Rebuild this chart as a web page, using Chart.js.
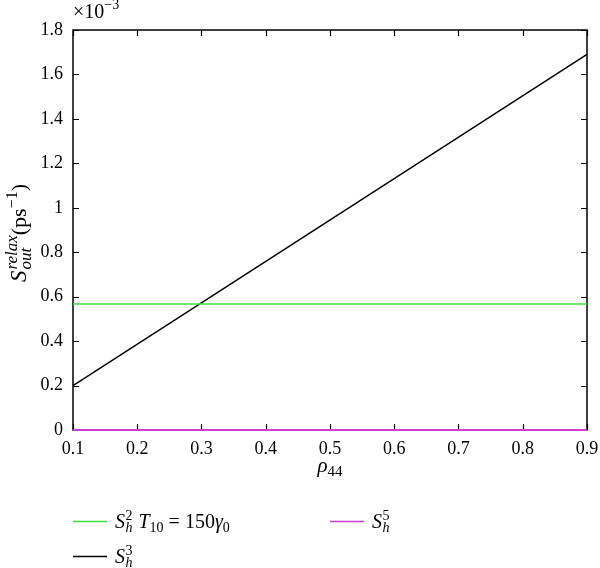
<!DOCTYPE html>
<html>
<head>
<meta charset="utf-8">
<script src="https://cdn.jsdelivr.net/npm/chart.js@4.4.1/dist/chart.umd.min.js"></script>
<style>
html,body{margin:0;padding:0;background:#fff;}
#wrap{width:600px;height:568px;position:relative;}
</style>
</head>
<body>
<div id="wrap"><canvas id="c" width="600" height="568"></canvas></div>
<script>
// ---- data (y values in units of 10^-3 ps^-1) ----
const rho44 = [0.1, 0.9];
const sh3 = [0.2, 1.69];
const sh2 = [0.567, 0.567];
const sh5 = [0, 0];
const xTicks = [0.1, 0.2, 0.3, 0.4, 0.5, 0.6, 0.7, 0.8, 0.9];
const yTicks = [0, 0.2, 0.4, 0.6, 0.8, 1, 1.2, 1.4, 1.6, 1.8];
const seriesNames = ['S_h^2 T_10 = 150γ_0', 'S_h^5', 'S_h^3'];

const SERIF = '"Liberation Serif", "DejaVu Serif", serif';
const GREEN = '#3ce03c', MAGENTA = '#d03cd0', BLACK = '#000';

const pts = ys => rho44.map((x, i) => ({x, y: ys[i]}));

function setFont(ctx, s) { ctx.font = (s.it ? 'italic ' : '') + s.size + 'px ' + SERIF; }
function segWidth(ctx, s) {
  if (s.stack) {
    let w = 0;
    for (const p of s.stack) { setFont(ctx, p); w = Math.max(w, ctx.measureText(p.t).width); }
    return w + (s.gap || 0);
  }
  setFont(ctx, s);
  return ctx.measureText(s.t).width + (s.gap || 0);
}
function richWidth(ctx, segs) { return segs.reduce((a, s) => a + segWidth(ctx, s), 0); }
function rich(ctx, x, y, segs) {
  let cx = x;
  for (const s of segs) {
    if (s.stack) {
      for (const p of s.stack) { setFont(ctx, p); ctx.fillText(p.t, cx, y + p.dy); }
    } else {
      setFont(ctx, s); ctx.fillText(s.t, cx, y + (s.dy || 0));
    }
    cx += segWidth(ctx, s);
  }
  return cx - x;
}

const decor = {
  id: 'decor',
  beforeDatasetsDraw(chart) {
    const ctx = chart.ctx, a = chart.chartArea;
    const xs = chart.scales.x, ys = chart.scales.y;
    ctx.save();
    ctx.strokeStyle = '#000'; ctx.lineWidth = 1.5;
    ctx.strokeRect(a.left, a.top, a.right - a.left, a.bottom - a.top);
    const L = 6;
    ctx.beginPath();
    xTicks.forEach(v => {
      const p = Math.round(xs.getPixelForValue(v)) + 0.5;
      ctx.moveTo(p, a.bottom); ctx.lineTo(p, a.bottom - L);
      ctx.moveTo(p, a.top); ctx.lineTo(p, a.top + L);
    });
    yTicks.forEach(v => {
      const p = Math.round(ys.getPixelForValue(v)) + 0.5;
      ctx.moveTo(a.left, p); ctx.lineTo(a.left + L, p);
      ctx.moveTo(a.right, p); ctx.lineTo(a.right - L, p);
    });
    ctx.lineWidth = 1.2;
    ctx.stroke();
    ctx.restore();
  },
  afterDraw(chart) {
    const ctx = chart.ctx, a = chart.chartArea;
    ctx.save();
    ctx.fillStyle = '#000';
    ctx.textBaseline = 'alphabetic';
    ctx.textAlign = 'left';
    // x10^-3
    rich(ctx, a.left, 18, [
      {t: '×10', size: 20},
      {t: '−3', size: 14, dy: -9}
    ]);
    // x title
    const cxm = (a.left + a.right) / 2;
    const xt = [{t: 'ρ', it: true, size: 21}, {t: '44', size: 15, dy: 4}];
    rich(ctx, cxm - richWidth(ctx, xt) / 2, 472, xt);
    // y title (rotated)
    const yt = [
      {t: 'S', it: true, size: 23, gap: 1},
      {stack: [{t: 'relax', it: true, size: 17, dy: -9}, {t: 'out', it: true, size: 17, dy: 5}]},
      {t: '(ps', size: 22},
      {t: '−1', size: 16, dy: -9},
      {t: ')', size: 22}
    ];
    ctx.save();
    ctx.translate(26, 233 + richWidth(ctx, yt) / 2);
    ctx.rotate(-Math.PI / 2);
    rich(ctx, 0, 0, yt);
    ctx.restore();

    // legend
    const items = [
      {c: GREEN, x: 73, y: 521, segs: [
        {t: 'S', it: true, size: 20, gap: 0.5},
        {stack: [{t: '2', size: 14, dy: -8}, {t: 'h', it: true, size: 14, dy: 4}], gap: 6},
        {t: 'T', it: true, size: 20},
        {t: '10', size: 14, dy: 4, gap: 5},
        {t: '=', size: 20, gap: 5},
        {t: '150', size: 20},
        {t: 'γ', it: true, size: 20},
        {t: '0', size: 14, dy: 4}
      ]},
      {c: MAGENTA, x: 330, y: 521, segs: [
        {t: 'S', it: true, size: 20, gap: 0.5},
        {stack: [{t: '5', size: 14, dy: -8}, {t: 'h', it: true, size: 14, dy: 4}]}
      ]},
      {c: BLACK, x: 73, y: 556, segs: [
        {t: 'S', it: true, size: 20, gap: 0.5},
        {stack: [{t: '3', size: 14, dy: -8}, {t: 'h', it: true, size: 14, dy: 4}]}
      ]}
    ];
    items.forEach(it => {
      ctx.strokeStyle = it.c; ctx.lineWidth = 1.5;
      ctx.beginPath(); ctx.moveTo(it.x, it.y + 0.5); ctx.lineTo(it.x + 34, it.y + 0.5); ctx.stroke();
      ctx.fillStyle = '#000';
      rich(ctx, it.x + 42, it.y + 7, it.segs);
    });
    ctx.restore();
  }
};

const fmt = v => String(Math.round(v * 10) / 10);

new Chart(document.getElementById('c'), {
  type: 'line',
  data: {
    datasets: [
      {label: seriesNames[0], data: pts(sh2), borderColor: GREEN, borderWidth: 1.5, pointRadius: 0, order: 2},
      {label: seriesNames[1], data: pts(sh5), borderColor: MAGENTA, borderWidth: 2, pointRadius: 0, order: 1, clip: false},
      {label: seriesNames[2], data: pts(sh3), borderColor: BLACK, borderWidth: 1.5, pointRadius: 0, order: 3}
    ]
  },
  options: {
    responsive: false,
    animation: false,
    events: [],
    layout: {padding: {left: 0, top: 30, right: 13, bottom: 68}},
    plugins: {legend: {display: false}, tooltip: {enabled: false}},
    scales: {
      x: {
        type: 'linear', min: 0.1, max: 0.9,
        afterBuildTicks: s => { s.ticks = xTicks.map(v => ({value: v})); },
        afterFit: s => { s.height = 70; s.paddingLeft = 0; s.paddingRight = 0; },
        grid: {display: false, drawTicks: false},
        border: {display: false},
        ticks: {callback: fmt, color: '#000', padding: 8, maxRotation: 0, autoSkip: false,
                font: {family: SERIF, size: 18}}
      },
      y: {
        type: 'linear', min: 0, max: 1.8,
        afterBuildTicks: s => { s.ticks = yTicks.map(v => ({value: v})); },
        afterFit: s => { s.width = 73; s.paddingTop = 0; s.paddingBottom = 0; },
        grid: {display: false, drawTicks: false},
        border: {display: false},
        ticks: {callback: fmt, color: '#000', padding: 10, autoSkip: false,
                font: {family: SERIF, size: 18}}
      }
    }
  },
  plugins: [decor]
});
</script>
</body>
</html>
